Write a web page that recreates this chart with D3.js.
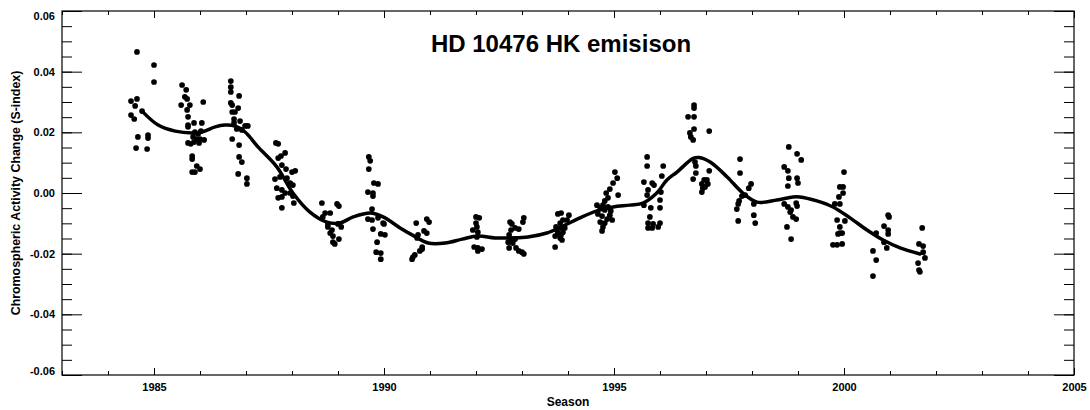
<!DOCTYPE html>
<html><head><meta charset="utf-8">
<script src="https://cdn.jsdelivr.net/npm/d3@7"></script>
<style>
body{margin:0;background:#fff;}
svg{display:block;}
text{font-family:"Liberation Sans",Arial,Helvetica,sans-serif;font-weight:bold;fill:#000;}
</style>
</head><body>
<svg id="chart" width="1090" height="410"></svg>
<script>
// ---------- data ----------
const chartTitle = "HD 10476 HK emisison";
const xAxisLabel = "Season";
const yAxisLabel = "Chromospheric Activity Change (S-index)";
const xDomain = [1983, 2005];
const yDomain = [-0.06, 0.06];
const xMajorTicks = [1985, 1990, 1995, 2000, 2005];
const yMajorTicks = [-0.06, -0.04, -0.02, 0.00, 0.02, 0.04, 0.06];

const obsYears = [
 1984.63,1985.00,1985.00,1984.50,1984.63,1984.59,1984.50,1984.57,1984.74,1984.65,1984.87,1984.87,1984.61,1984.85,
 1985.61,1985.70,1985.67,1985.72,1985.59,1985.78,1985.72,1986.07,1985.74,1985.74,1985.87,1986.04,1985.74,1985.89,1986.02,1985.96,1985.85,1985.93,1986.00,1986.09,1985.74,1985.80,1985.87,1985.98,1985.83,1985.83,1985.93,1986.00,1985.83,1985.89,
 1986.67,1986.67,1986.67,1986.85,1986.67,1986.70,1986.83,1986.76,1986.70,1986.74,1986.74,1986.87,1986.98,1987.04,1986.80,1986.91,1986.70,1986.85,1986.85,1986.91,1986.83,1987.02,1987.02,
 1987.65,1987.70,1987.85,1987.76,1987.70,1987.78,1987.87,1988.00,1988.07,1987.63,1987.74,1987.89,1987.96,1988.02,1987.67,1987.78,1987.85,1987.96,1988.02,1987.70,1987.78,1988.04,1987.78,
 1988.65,1988.98,1989.02,1988.72,1988.83,1988.67,1988.78,1988.78,1989.00,1989.07,1988.87,1988.83,1988.89,1989.02,1988.89,1988.93,
 1989.67,1989.70,1989.67,1989.78,1989.87,1989.65,1989.76,1989.76,1989.74,1989.65,1989.74,1989.87,1989.98,1990.00,1989.76,1989.93,1990.02,1989.85,1989.83,1989.93,1989.93,
 1990.70,1990.93,1990.98,1990.87,1990.93,1990.74,1990.72,1990.83,1990.78,1990.67,1990.63,1990.61,1990.83,
 1992.00,1992.07,1992.00,1992.02,1991.93,1992.04,1992.02,1991.96,1992.04,1992.13,1992.04,
 1992.74,1992.78,1993.04,1993.02,1992.85,1992.93,1992.76,1992.72,1992.76,1992.85,1992.70,1992.80,1992.72,1992.87,1992.93,1993.00,1993.04,
 1993.78,1993.85,1994.02,1993.89,1993.98,1993.83,1993.74,1993.85,1993.93,1993.78,1993.85,1993.72,1993.83,1993.72,1993.76,1993.89,1993.87,
 1995.02,1995.07,1994.98,1994.91,1994.83,1995.09,1994.87,1994.80,1994.63,1994.70,1994.80,1994.93,1994.65,1994.74,1994.85,1994.96,1994.70,1994.80,1994.76,1994.74,1994.76,1994.87,1994.91,
 1995.72,1995.72,1996.07,1996.04,1995.65,1995.83,1995.87,1995.74,1995.72,1996.02,1996.00,1995.65,1995.80,1996.00,1995.78,1995.74,1995.85,1996.00,1995.74,1995.83,1995.96,
 1996.74,1996.74,1996.61,1996.74,1996.74,1997.07,1996.65,1996.67,1996.72,1996.76,1996.78,1997.07,1996.78,1996.72,1996.96,1997.02,1996.91,1997.04,1996.98,1996.91,1996.93,
 1997.74,1997.74,1997.98,1997.93,1997.85,1997.78,1997.72,1997.70,1997.67,1998.04,1998.04,1997.70,1998.07,
 1998.80,1998.98,1999.07,1998.70,1998.78,1998.80,1998.98,1999.00,1998.78,1998.70,1998.78,1998.85,1998.96,1998.98,1998.83,1998.89,1998.96,1998.76,1998.85,
 2000.00,1999.91,1999.98,1999.98,1999.89,1999.80,1999.91,1999.85,2000.02,1999.91,1999.91,1999.87,1999.96,1999.76,1999.85,1999.96,
 2000.96,2000.98,2000.87,2000.96,2000.70,2000.96,2000.87,2000.93,2000.63,2000.70,2000.63,
 2001.70,2001.63,2001.72,2001.72,2001.76,2001.61,2001.63,2001.65
];
const obsValues = [
 0.0465,0.0422,0.0366,0.0303,0.0310,0.0287,0.0257,0.0244,0.0270,0.0185,0.0191,0.0181,0.0148,0.0145,
 0.0356,0.0340,0.0317,0.0310,0.0290,0.0290,0.0274,0.0300,0.0251,0.0224,0.0231,0.0231,0.0218,0.0201,0.0204,0.0195,0.0185,0.0178,0.0178,0.0175,0.0165,0.0162,0.0168,0.0165,0.0122,0.0112,0.0089,0.0079,0.0069,0.0069,
 0.0369,0.0349,0.0333,0.0320,0.0297,0.0290,0.0280,0.0267,0.0267,0.0244,0.0231,0.0237,0.0221,0.0221,0.0211,0.0208,0.0178,0.0158,0.0119,0.0102,0.0063,0.0049,0.0030,
 0.0165,0.0162,0.0132,0.0122,0.0115,0.0092,0.0079,0.0069,0.0073,0.0046,0.0053,0.0049,0.0033,0.0026,0.0016,0.0010,0.0000,0.0000,-0.0010,-0.0016,-0.0013,-0.0033,-0.0049,
 -0.0033,-0.0036,-0.0043,-0.0066,-0.0066,-0.0079,-0.0102,-0.0112,-0.0102,-0.0112,-0.0122,-0.0132,-0.0142,-0.0152,-0.0162,-0.0168,
 0.0119,0.0106,0.0079,0.0033,0.0030,0.0003,0.0000,-0.0010,-0.0053,-0.0086,-0.0089,-0.0082,-0.0099,-0.0102,-0.0119,-0.0135,-0.0138,-0.0162,-0.0195,-0.0198,-0.0218,
 -0.0099,-0.0086,-0.0096,-0.0125,-0.0132,-0.0138,-0.0148,-0.0185,-0.0191,-0.0204,-0.0211,-0.0218,-0.0178,
 -0.0079,-0.0082,-0.0099,-0.0112,-0.0122,-0.0129,-0.0145,-0.0178,-0.0181,-0.0185,-0.0191,
 -0.0096,-0.0102,-0.0082,-0.0096,-0.0115,-0.0119,-0.0122,-0.0138,-0.0152,-0.0152,-0.0162,-0.0165,-0.0181,-0.0181,-0.0191,-0.0195,-0.0201,
 -0.0069,-0.0066,-0.0073,-0.0089,-0.0089,-0.0099,-0.0112,-0.0115,-0.0115,-0.0132,-0.0138,-0.0142,-0.0148,-0.0178,-0.0122,-0.0129,-0.0155,
 0.0069,0.0049,0.0033,0.0013,0.0000,-0.0007,-0.0016,-0.0026,-0.0040,-0.0049,-0.0056,-0.0059,-0.0069,-0.0076,-0.0086,-0.0089,-0.0096,-0.0099,-0.0112,-0.0125,-0.0040,-0.0046,-0.0073,
 0.0119,0.0089,0.0089,0.0056,0.0036,0.0033,0.0026,0.0010,-0.0007,0.0003,-0.0023,-0.0040,-0.0049,-0.0049,-0.0079,-0.0099,-0.0102,-0.0099,-0.0115,-0.0115,-0.0112,
 0.0290,0.0280,0.0251,0.0251,0.0211,0.0204,0.0198,0.0185,0.0175,0.0102,0.0089,0.0073,0.0066,0.0046,0.0043,0.0043,0.0030,0.0030,0.0020,0.0003,0.0016,
 0.0112,0.0066,0.0030,0.0016,-0.0007,-0.0010,-0.0026,-0.0036,-0.0053,-0.0036,-0.0073,-0.0092,-0.0099,
 0.0152,0.0129,0.0109,0.0086,0.0073,0.0049,0.0049,0.0033,0.0023,-0.0036,-0.0046,-0.0056,-0.0033,-0.0043,-0.0063,-0.0079,-0.0086,-0.0112,-0.0152,
 0.0069,0.0020,0.0020,0.0000,-0.0013,-0.0036,-0.0036,-0.0089,-0.0092,-0.0112,-0.0132,-0.0135,-0.0132,-0.0171,-0.0171,-0.0168,
 -0.0073,-0.0079,-0.0109,-0.0122,-0.0132,-0.0135,-0.0162,-0.0181,-0.0191,-0.0221,-0.0274,
 -0.0115,-0.0168,-0.0175,-0.0195,-0.0214,-0.0231,-0.0254,-0.0260
];

const fitYears = [
 1984.74,1985.09,1985.46,1985.83,1986.04,1986.33,1986.54,1986.76,1986.98,1987.26,1987.67,1988.02,1988.39,1988.76,
 1989.04,1989.33,1989.70,1989.98,1990.35,1990.61,1990.96,1991.33,1991.70,1992.04,1992.41,1992.78,1993.13,1993.54,
 1993.89,1994.26,1994.63,1994.98,1995.35,1995.63,1995.93,1996.15,1996.37,1996.72,1996.85,1997.09,1997.46,1997.80,
 1998.11,1998.54,1998.89,1999.04,1999.41,1999.76,2000.13,2000.50,2000.85,2001.22,2001.65
];
const fitValues = [
 0.0270,0.0224,0.0204,0.0198,0.0201,0.0218,0.0224,0.0221,0.0201,0.0152,0.0086,0.0000,-0.0063,-0.0096,
 -0.0099,-0.0079,-0.0066,-0.0079,-0.0115,-0.0138,-0.0165,-0.0165,-0.0152,-0.0142,-0.0148,-0.0148,-0.0145,-0.0132,
 -0.0109,-0.0082,-0.0059,-0.0046,-0.0040,-0.0033,0.0000,0.0043,0.0069,0.0114,0.0117,0.0102,0.0053,0.0000,
 -0.0030,-0.0023,-0.0013,-0.0013,-0.0026,-0.0046,-0.0082,-0.0122,-0.0155,-0.0181,-0.0201
];

// ---------- layout ----------
const plot = {left: 62, right: 1074, top: 11, bottom: 375};
const svg = d3.select("#chart");
const x = d3.scaleLinear().domain(xDomain).range([plot.left, plot.right]);
const y = d3.scaleLinear().domain(yDomain).range([plot.bottom, plot.top]);

const xMinor = d3.range(xDomain[0], xDomain[1] + 1, 1);
const yMinor = d3.range(-0.06, 0.0601, 0.005).map(v => +v.toFixed(3));
const fmtY = d => d.toFixed(2);

function styleAxis(g){
  g.select(".domain").remove();
  g.selectAll(".tick line").attr("stroke", "#000").attr("stroke-width", 1);
  g.selectAll(".tick text").style("font-size", "11px").attr("fill", "#000");
}

// minor ticks
svg.append("g").attr("transform", `translate(0,${plot.bottom})`)
  .call(d3.axisBottom(x).tickValues(xMinor).tickSize(-4).tickFormat("")).call(styleAxis);
svg.append("g").attr("transform", `translate(0,${plot.top})`)
  .call(d3.axisTop(x).tickValues(xMinor).tickSize(-4).tickFormat("")).call(styleAxis);
svg.append("g").attr("transform", `translate(${plot.left},0)`)
  .call(d3.axisLeft(y).tickValues(yMinor).tickSize(-10).tickFormat("")).call(styleAxis);
svg.append("g").attr("transform", `translate(${plot.right},0)`)
  .call(d3.axisRight(y).tickValues(yMinor).tickSize(-10).tickFormat("")).call(styleAxis);

// major ticks
svg.append("g").attr("transform", `translate(0,${plot.bottom})`)
  .call(d3.axisBottom(x).tickValues(xMajorTicks).tickSize(-7).tickPadding(8).tickFormat(d3.format("d"))).call(styleAxis);
svg.append("g").attr("transform", `translate(0,${plot.top})`)
  .call(d3.axisTop(x).tickValues(xMajorTicks).tickSize(-7).tickFormat("")).call(styleAxis);
const yAx = svg.append("g").attr("transform", `translate(${plot.left},0)`)
  .call(d3.axisLeft(y).tickValues(yMajorTicks).tickSize(-20).tickPadding(7).tickFormat(fmtY)).call(styleAxis);
svg.append("g").attr("transform", `translate(${plot.right},0)`)
  .call(d3.axisRight(y).tickValues(yMajorTicks).tickSize(-20).tickFormat("")).call(styleAxis);

// keep end labels inside the frame like the original
yAx.selectAll(".tick text").attr("dy", d => d === 0.06 ? "0.78em" : d === -0.06 ? "-0.05em" : "0.32em");

// frame
svg.append("rect")
  .attr("x", plot.left).attr("y", plot.top)
  .attr("width", plot.right - plot.left).attr("height", plot.bottom - plot.top)
  .attr("fill", "none").attr("stroke", "#000").attr("stroke-width", 1.2);

// observations
const obs = obsYears.map((yr, i) => ({year: yr, value: obsValues[i]}));
svg.append("g").selectAll("circle").data(obs).join("circle")
  .attr("cx", d => x(d.year)).attr("cy", d => y(d.value)).attr("r", 2.85).attr("fill", "#000");

// smooth fit
const fit = fitYears.map((yr, i) => ({year: yr, value: fitValues[i]}));
svg.append("path").datum(fit)
  .attr("fill", "none").attr("stroke", "#000").attr("stroke-width", 3.5)
  .attr("stroke-linecap", "round").attr("stroke-linejoin", "round")
  .attr("d", d3.line().x(d => x(d.year)).y(d => y(d.value)).curve(d3.curveCatmullRom.alpha(0.5)));

// texts
svg.append("text").attr("x", 561).attr("y", 52).attr("text-anchor", "middle")
  .style("font-size", "24px").text(chartTitle);
svg.append("text").attr("x", (plot.left + plot.right) / 2).attr("y", 406).attr("text-anchor", "middle")
  .style("font-size", "12px").text(xAxisLabel);
svg.append("text").attr("transform", `translate(20,${(plot.top + plot.bottom) / 2}) rotate(-90)`)
  .attr("text-anchor", "middle").style("font-size", "12.4px").text(yAxisLabel);
</script>
</body></html>
